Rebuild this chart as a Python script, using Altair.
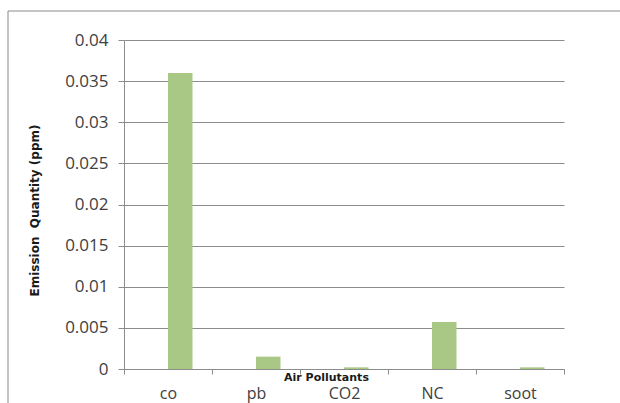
import altair as alt
import pandas as pd

# Air pollutant emissions (ppm)
pollutants = ["co", "pb", "CO2", "NC", "soot"]
emission_ppm = [0.036, 0.0015, 0.0002, 0.0057, 0.0002]
y_ticks = [0, 0.005, 0.01, 0.015, 0.02, 0.025, 0.03, 0.035, 0.04]

df = pd.DataFrame({
    "pollutant": pollutants,
    "emission": emission_ppm,
    "series": ["Emission"] * len(pollutants),
})

GRID = "#8c8c8c"
TEXT = "#404040"
FONT = "Open Sans"
TITLE_FONT = "DejaVu Sans"

bars = alt.Chart(df).mark_bar(color="#a9c785").encode(
    x=alt.X(
        "pollutant:N",
        sort=pollutants,
        scale=alt.Scale(paddingInner=0, paddingOuter=0),
        axis=alt.Axis(
            title="Air Pollutants",
            titleFont=TITLE_FONT,
            titleFontSize=11,
            titleFontWeight="bold",
            titleColor="#1a1a1a",
            titleX=202,
            titleY=8,
            titleBaseline="middle",
            labelAngle=0,
            labelFont=FONT,
            labelFontSize=16,
            labelColor=TEXT,
            labelPadding=11,
            tickBand="extent",
            tickSize=5,
            tickColor=GRID,
            domainColor=GRID,
            grid=False,
        ),
    ),
    xOffset=alt.XOffset(
        "series:N",
        scale=alt.Scale(domain=["", "Emission"], paddingInner=0, paddingOuter=0.796),
    ),
    y=alt.Y(
        "emission:Q",
        scale=alt.Scale(domain=[0, 0.04], nice=False),
        axis=alt.Axis(
            title="Emission\u00a0\u00a0Quantity (ppm)",
            titleFont=TITLE_FONT,
            titleFontSize=12,
            titleFontWeight="bold",
            titleColor="#1a1a1a",
            titleAngle=-90,
            titleX=-90,
            titleY=170,
            titleBaseline="middle",
            titleAlign="center",
            values=y_ticks,
            format="~g",
            labelFont=FONT,
            labelFontSize=17,
            labelColor=TEXT,
            labelPadding=10,
            tickSize=6,
            tickColor=GRID,
            domainColor=GRID,
            gridColor=GRID,
            gridOpacity=1,
        ),
    ),
)

# outer frame on the left and top edges
frame_df = pd.DataFrame({"k": [0]})
frame_left = alt.Chart(frame_df).mark_rule(color="#8a8a8a", strokeWidth=1).encode(
    x=alt.value(-116), y=alt.value(-29), y2=alt.value(380)
)
frame_top = alt.Chart(frame_df).mark_rule(color="#8a8a8a", strokeWidth=1).encode(
    x=alt.value(-116), x2=alt.value(500), y=alt.value(-29)
)

chart = alt.layer(bars, frame_left, frame_top).properties(
    width=440,
    height=329,
    autosize=alt.AutoSizeParams(type="none"),
    padding={"left": 124, "top": 40, "right": 56, "bottom": 34},
    background="white",
).configure_view(strokeWidth=0)

chart.save("out.html", embed_options={"renderer": "svg", "actions": False})
